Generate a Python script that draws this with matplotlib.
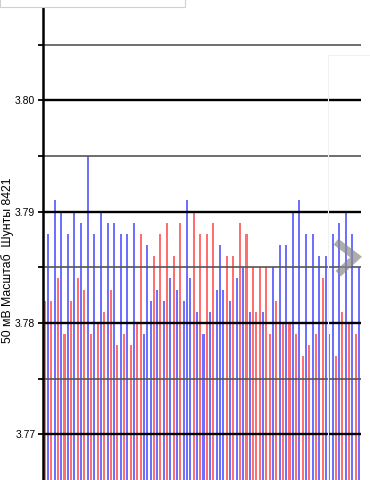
import numpy as np
import matplotlib
matplotlib.use("Agg")
import matplotlib.pyplot as plt
from matplotlib.ticker import MultipleLocator, FormatStrFormatter
from matplotlib.patches import Rectangle
from matplotlib.lines import Line2D

# readings of the 50 mV shunt scale, one bar per reading, in screen order
vals = [3.782, 3.788, 3.782, 3.791, 3.784, 3.790, 3.779, 3.788, 3.782, 3.790,
        3.784, 3.789, 3.783, 3.795, 3.779, 3.788, 3.780, 3.790, 3.781, 3.789,
        3.783, 3.789, 3.778, 3.788, 3.779, 3.788, 3.778, 3.789, 3.780, 3.788,
        3.779, 3.787, 3.782, 3.786, 3.783, 3.788, 3.782, 3.789, 3.784, 3.786,
        3.783, 3.789, 3.782, 3.791, 3.784, 3.790, 3.781, 3.788, 3.779, 3.788,
        3.781, 3.789, 3.783, 3.787, 3.783, 3.786, 3.782, 3.786, 3.784, 3.789,
        3.785, 3.788, 3.781, 3.785, 3.781, 3.785, 3.781, 3.785, 3.779, 3.785,
        3.782, 3.787, 3.780, 3.787, 3.780, 3.790, 3.779, 3.791, 3.777, 3.788,
        3.778, 3.788, 3.779, 3.786, 3.784, 3.786, 3.779, 3.788, 3.777, 3.789,
        3.781, 3.790, 3.780, 3.788, 3.779, 3.785]
# which series each bar belongs to (R = red, B = blue)
series = list("RBRBRBRBRBRBRBRBRBRBRBRBRBRB"
              "RRBBBRBRBRBRBRBBBRBR"
              "BRBRBBBRBRBRBRBRRRBRRBRB"
              "RBRBRBRBRBRBRBBBRBRBRBRB")
ytick_labels = ["3.77", "3.78", "3.79", "3.80"]
ylabel = "50 мВ Масштаб  Шунты 8421"

plt.rcParams['font.family'] = ['Liberation Sans', 'DejaVu Sans']

W, H = 370, 480
fig = plt.figure(figsize=(W / 100, H / 100), dpi=100)
fig.patch.set_facecolor('white')

ax = fig.add_axes([43 / W, 0, (361 - 43) / W, 1])
ax.patch.set_alpha(0)

cmap = {'R': '#ff6f6f', 'B': '#7070ff'}
x = np.arange(len(vals))
ax.bar(x, vals, width=0.62, color=[cmap[s] for s in series], linewidth=0)

ax.set_xlim(-0.5, 95.6)
ax.set_ylim(3.7659, 3.8090)

ax.yaxis.set_major_locator(MultipleLocator(0.01))
ax.yaxis.set_minor_locator(MultipleLocator(0.005))
ax.yaxis.set_major_formatter(FormatStrFormatter('%.2f'))
ax.set_axisbelow(False)
ax.grid(which='major', axis='y', color='black', lw=1.7)
ax.grid(which='minor', axis='y', color='#555555', lw=1.2)
ax.tick_params(axis='y', which='both', length=3.5, width=1.3, labelsize=7.5, pad=2)
ax.set_xticks([])

for s in ['top', 'right', 'bottom']:
    ax.spines[s].set_visible(False)
ax.spines['left'].set_linewidth(1.8)
ax.spines['left'].set_zorder(5)

fig.text(8 / W, 1 - 260 / H, ylabel, rotation=90, ha='center', va='center', fontsize=8.8)

# top-left box and right-hand panel (page elements around the chart)
fig.patches.append(Rectangle((0, 1 - 7 / H), 185 / W, 20 / H, transform=fig.transFigure,
                             facecolor='white', edgecolor='#d0d0d0', lw=0.8, zorder=0))
fig.lines.append(Line2D([328 / W, 328 / W, 1], [0, 1 - 55 / H, 1 - 55 / H],
                        transform=fig.transFigure, color='#f0f0f0', lw=0.8, zorder=6))
fig.lines.append(Line2D([339 / W, 356 / W, 341 / W], [1 - 244 / H, 1 - 257 / H, 1 - 271 / H],
                        transform=fig.transFigure, color='#8a8a8a', lw=5.5, alpha=0.7,
                        solid_joinstyle='miter', zorder=7))

fig.savefig('out.png', dpi=100)
